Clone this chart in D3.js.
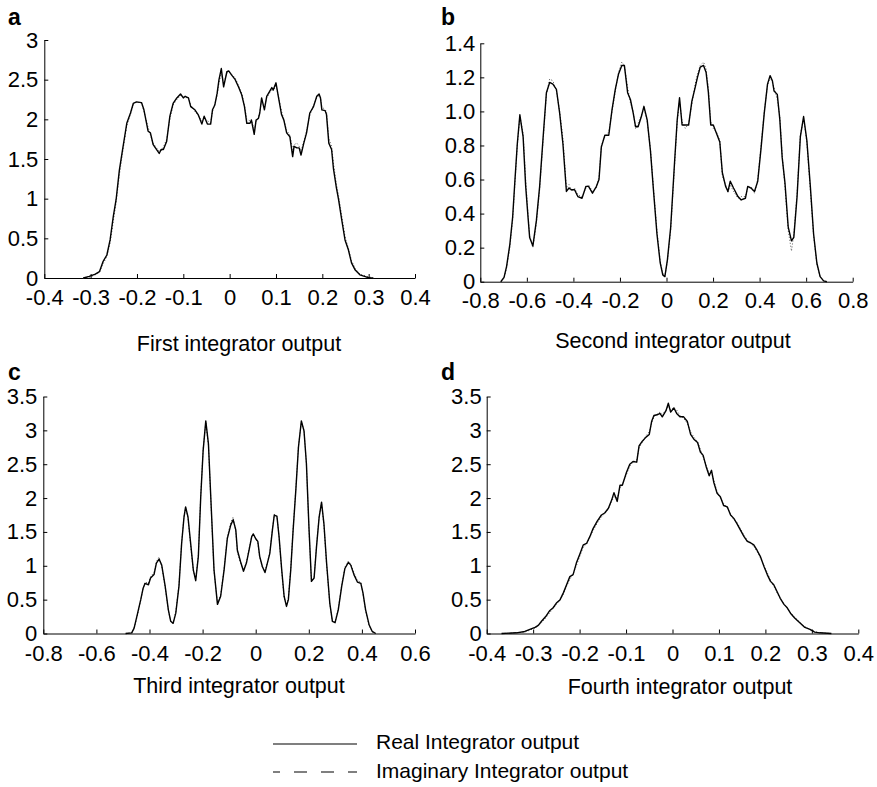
<!DOCTYPE html>
<html>
<head>
<meta charset="utf-8">
<script src="https://cdn.jsdelivr.net/npm/d3@7"></script>
<style>
  html, body { margin: 0; padding: 0; background: #fff; }
  svg { display: block; }
  text { font-family: "Liberation Sans", Arial, Helvetica, sans-serif; fill: #000; }
</style>
</head>
<body>
<svg id="chart" width="877" height="787"></svg>
<script>
// ---------------- DATA ----------------
// Panel a : First integrator output
const aX = [-0.316,-0.303,-0.29,-0.281,-0.273,-0.265,-0.258,-0.251,-0.245,-0.238,
  -0.231,-0.222,-0.214,-0.208,-0.201,-0.19,-0.185,-0.176,-0.171,-0.165,
  -0.158,-0.152,-0.148,-0.143,-0.136,-0.129,-0.122,-0.114,-0.106,-0.1,
  -0.096,-0.089,-0.084,-0.075,-0.068,-0.06,-0.055,-0.048,-0.041,-0.037,
  -0.032,-0.027,-0.023,-0.018,-0.013,-0.006,-0.002,0.004,0.012,0.019,
  0.026,0.032,0.037,0.044,0.047,0.053,0.057,0.062,0.065,0.069,
  0.075,0.08,0.086,0.091,0.094,0.1,0.105,0.112,0.117,0.123,
  0.13,0.136,0.139,0.145,0.15,0.154,0.16,0.166,0.173,0.181,
  0.188,0.193,0.196,0.199,0.206,0.209,0.214,0.22,0.224,0.23,
  0.235,0.242,0.249,0.256,0.263,0.271,0.281,0.296,0.303,0.31];
const aReal = [0,0.02,0.05,0.08,0.21,0.29,0.48,0.78,0.99,1.36,
  1.62,1.95,2.08,2.2,2.22,2.21,2.12,1.85,1.83,1.68,
  1.62,1.57,1.62,1.62,1.72,2.04,2.2,2.27,2.32,2.27,
  2.29,2.27,2.16,2.12,2.06,1.94,2.04,1.94,1.94,2.12,
  2.18,2.33,2.5,2.64,2.41,2.6,2.61,2.56,2.5,2.41,
  2.31,2.16,1.95,1.95,1.99,1.81,1.99,2.01,2.08,2.27,
  2.12,2.29,2.35,2.4,2.37,2.46,2.29,2.06,1.99,1.83,
  1.78,1.53,1.66,1.64,1.64,1.55,1.7,1.83,2.08,2.16,
  2.29,2.32,2.27,2.12,2.11,2.06,1.7,1.62,1.38,1.15,
  0.99,0.73,0.48,0.36,0.19,0.1,0.04,0.01,0,0];
const aImag = [0,0.01,0.04,0.07,0.18,0.27,0.44,0.72,0.95,1.3,
  1.58,1.92,2.06,2.18,2.22,2.2,2.1,1.9,1.8,1.7,
  1.64,1.6,1.6,1.65,1.75,2.0,2.18,2.25,2.3,2.28,
  2.27,2.28,2.18,2.1,2.05,1.98,2.02,1.98,1.96,2.1,
  2.2,2.3,2.46,2.58,2.45,2.58,2.6,2.57,2.52,2.43,
  2.33,2.18,2.0,1.98,2.0,1.86,1.97,2.02,2.1,2.22,
  2.15,2.27,2.33,2.38,2.36,2.42,2.3,2.1,2.0,1.86,
  1.8,1.62,1.68,1.7,1.66,1.6,1.72,1.86,2.05,2.18,
  2.27,2.3,2.28,2.16,2.12,2.1,1.76,1.66,1.45,1.2,
  1.04,0.78,0.52,0.38,0.22,0.12,0.05,0.02,0.01,0];
const aXTicks = [-0.4,-0.3,-0.2,-0.1,0,0.1,0.2,0.3,0.4];
const aXLabels = ["-0.4","-0.3","-0.2","-0.1","0","0.1","0.2","0.3","0.4"];
const aYTicks = [0,0.5,1,1.5,2,2.5,3];
const aYLabels = ["0","0.5","1","1.5","2","2.5","3"];

// Panel b : Second integrator output
const bX = [-0.712,-0.698,-0.687,-0.673,-0.661,-0.651,-0.641,-0.63,-0.616,-0.605,
  -0.595,-0.588,-0.574,-0.559,-0.545,-0.53,-0.516,-0.502,-0.488,-0.473,
  -0.459,-0.445,-0.43,-0.419,-0.408,-0.395,-0.381,-0.363,-0.346,-0.335,
  -0.318,-0.301,-0.29,-0.28,-0.265,-0.248,-0.234,-0.22,-0.206,-0.192,
  -0.181,-0.167,-0.155,-0.143,-0.133,-0.122,-0.108,-0.097,-0.083,-0.069,
  -0.055,-0.041,-0.027,-0.016,-0.007,0.004,0.018,0.035,0.046,0.056,
  0.067,0.081,0.095,0.109,0.123,0.133,0.145,0.159,0.17,0.18,
  0.19,0.201,0.215,0.229,0.24,0.254,0.264,0.274,0.288,0.307,
  0.321,0.339,0.349,0.363,0.378,0.392,0.406,0.42,0.434,0.445,
  0.455,0.462,0.476,0.487,0.497,0.509,0.523,0.537,0.547,0.561,
  0.575,0.589,0.603,0.618,0.632,0.646,0.66,0.675,0.689];
const bReal = [0,0.025,0.09,0.22,0.38,0.6,0.81,0.98,0.85,0.56,
  0.38,0.26,0.21,0.36,0.56,0.85,1.11,1.17,1.16,1.13,
  0.99,0.81,0.53,0.55,0.54,0.54,0.5,0.49,0.56,0.56,
  0.52,0.56,0.6,0.79,0.86,0.86,1.01,1.13,1.22,1.27,
  1.27,1.11,1.07,0.99,0.91,0.91,0.97,1.03,0.95,0.77,
  0.52,0.28,0.11,0.04,0.03,0.13,0.32,0.71,0.95,1.08,
  0.92,0.92,0.92,1.06,1.14,1.2,1.26,1.27,1.23,1.11,
  0.92,0.92,0.87,0.82,0.64,0.56,0.53,0.59,0.55,0.5,
  0.48,0.49,0.56,0.55,0.53,0.59,0.78,0.99,1.16,1.21,
  1.18,1.12,1.1,0.95,0.73,0.58,0.32,0.24,0.26,0.5,
  0.85,0.97,0.83,0.56,0.28,0.11,0.03,0.005,0];
const bImag = [0,0.02,0.08,0.2,0.36,0.58,0.8,0.97,0.87,0.6,
  0.4,0.27,0.2,0.34,0.54,0.83,1.1,1.19,1.18,1.12,
  1.0,0.84,0.55,0.57,0.53,0.55,0.51,0.5,0.55,0.57,
  0.53,0.55,0.62,0.8,0.85,0.88,1.0,1.12,1.23,1.29,
  1.27,1.14,1.05,1.0,0.9,0.93,0.98,1.02,0.94,0.78,
  0.53,0.3,0.12,0.05,0.03,0.12,0.3,0.69,0.94,1.06,
  0.94,0.9,0.93,1.04,1.16,1.22,1.27,1.29,1.25,1.14,
  0.94,0.9,0.88,0.83,0.62,0.57,0.52,0.57,0.53,0.49,
  0.5,0.5,0.55,0.56,0.52,0.6,0.8,1.0,1.15,1.2,
  1.17,1.14,1.07,0.97,0.74,0.56,0.3,0.18,0.28,0.52,
  0.86,0.96,0.82,0.54,0.27,0.1,0.03,0.005,0];
const bXTicks = [-0.8,-0.6,-0.4,-0.2,0,0.2,0.4,0.6,0.8];
const bXLabels = ["-0.8","-0.6","-0.4","-0.2","0","0.2","0.4","0.6","0.8"];
const bYTicks = [0,0.2,0.4,0.6,0.8,1.0,1.2,1.4];
const bYLabels = ["0","0.2","0.4","0.6","0.8","1.0","1.2","1.4"];

// Panel c : Third integrator output
const cX = [-0.49,-0.467,-0.458,-0.446,-0.433,-0.424,-0.417,-0.404,-0.396,-0.383,
  -0.374,-0.364,-0.354,-0.341,-0.329,-0.32,-0.311,-0.301,-0.289,-0.279,
  -0.27,-0.264,-0.255,-0.245,-0.235,-0.226,-0.216,-0.207,-0.198,-0.188,
  -0.178,-0.168,-0.157,-0.144,-0.132,-0.119,-0.107,-0.094,-0.085,-0.075,
  -0.069,-0.057,-0.046,-0.035,-0.025,-0.015,-0.009,0,0.008,0.015,
  0.025,0.035,0.044,0.053,0.063,0.07,0.08,0.088,0.098,0.107,
  0.116,0.123,0.132,0.141,0.151,0.161,0.172,0.182,0.191,0.201,
  0.21,0.22,0.229,0.239,0.248,0.257,0.267,0.279,0.289,0.299,
  0.311,0.324,0.336,0.349,0.358,0.37,0.383,0.396,0.404,0.414,
  0.427,0.439,0.452];
const cReal = [0,0.01,0.08,0.28,0.5,0.67,0.74,0.72,0.82,0.87,
  1.04,1.1,1.01,0.7,0.35,0.18,0.15,0.3,0.7,1.33,
  1.72,1.87,1.72,1.33,0.94,0.78,1.14,2.02,2.7,3.14,
  2.8,1.91,0.94,0.43,0.55,0.94,1.4,1.6,1.68,1.53,
  1.23,1.06,0.92,1.04,1.23,1.43,1.47,1.4,1.36,1.14,
  0.99,0.9,1.04,1.18,1.53,1.75,1.73,1.43,0.94,0.55,
  0.4,0.5,0.94,1.53,2.11,2.75,3.14,2.99,2.51,1.53,
  0.77,0.82,1.28,1.72,1.94,1.62,1.04,0.45,0.18,0.16,
  0.35,0.7,0.96,1.05,1.01,0.87,0.76,0.74,0.6,0.35,
  0.13,0.03,0];
const cImag = [0,0.01,0.07,0.26,0.49,0.66,0.76,0.74,0.84,0.9,
  1.06,1.13,1.0,0.68,0.34,0.17,0.16,0.32,0.72,1.35,
  1.74,1.86,1.7,1.3,0.93,0.8,1.16,2.05,2.72,3.12,
  2.78,1.88,0.92,0.45,0.57,0.96,1.43,1.64,1.72,1.5,
  1.2,1.04,0.94,1.05,1.25,1.44,1.46,1.41,1.34,1.12,
  0.98,0.92,1.05,1.2,1.55,1.76,1.74,1.42,0.92,0.53,
  0.41,0.52,0.96,1.55,2.13,2.77,3.12,3.0,2.5,1.5,
  0.76,0.84,1.3,1.74,1.92,1.6,1.02,0.44,0.17,0.17,
  0.37,0.72,0.98,1.07,1.03,0.9,0.78,0.76,0.58,0.33,
  0.12,0.02,0];
const cXTicks = [-0.8,-0.6,-0.4,-0.2,0,0.2,0.4,0.6];
const cXLabels = ["-0.8","-0.6","-0.4","-0.2","0","0.2","0.4","0.6"];
const cYTicks = [0,0.5,1,1.5,2,2.5,3,3.5];
const cYLabels = ["0","0.5","1","1.5","2","2.5","3","3.5"];

// Panel d : Fourth integrator output
const dX = [-0.368,-0.336,-0.318,-0.307,-0.296,-0.289,-0.282,-0.273,-0.264,-0.257,
  -0.25,-0.242,-0.235,-0.228,-0.221,-0.214,-0.207,-0.199,-0.192,-0.185,
  -0.178,-0.171,-0.162,-0.153,-0.146,-0.138,-0.131,-0.126,-0.119,-0.113,
  -0.108,-0.099,-0.092,-0.085,-0.077,-0.072,-0.065,-0.057,-0.05,-0.045,
  -0.04,-0.033,-0.027,-0.022,-0.014,-0.009,-0.004,0.003,0.009,0.016,
  0.024,0.032,0.039,0.046,0.054,0.06,0.066,0.073,0.079,0.084,
  0.089,0.096,0.103,0.11,0.118,0.125,0.132,0.139,0.146,0.154,
  0.161,0.168,0.175,0.182,0.189,0.197,0.204,0.211,0.218,0.225,
  0.232,0.24,0.247,0.254,0.263,0.274,0.285,0.296,0.306,0.317,
  0.342];
const dReal = [0,0.01,0.03,0.06,0.09,0.12,0.18,0.25,0.34,0.38,
  0.45,0.5,0.6,0.72,0.84,0.87,1.04,1.18,1.31,1.33,
  1.43,1.55,1.66,1.75,1.78,1.85,1.97,2.08,1.95,2.19,
  2.19,2.38,2.5,2.54,2.53,2.77,2.84,2.9,2.94,3.13,
  3.22,3.23,3.25,3.2,3.29,3.4,3.27,3.33,3.25,3.2,
  3.2,3.13,2.94,2.87,2.82,2.68,2.63,2.45,2.33,2.41,
  2.23,2.07,2.02,1.89,1.87,1.75,1.7,1.62,1.53,1.43,
  1.36,1.34,1.31,1.23,1.14,0.99,0.87,0.77,0.72,0.62,
  0.52,0.43,0.38,0.3,0.23,0.16,0.09,0.06,0.02,0.01,
  0];
const dImag = [0,0.01,0.02,0.05,0.08,0.11,0.16,0.23,0.31,0.37,
  0.43,0.49,0.58,0.7,0.8,0.88,1.0,1.15,1.28,1.32,
  1.42,1.52,1.63,1.72,1.77,1.84,1.95,2.02,2.0,2.15,
  2.2,2.35,2.47,2.53,2.56,2.74,2.82,2.92,2.98,3.1,
  3.2,3.24,3.27,3.24,3.3,3.36,3.3,3.34,3.3,3.22,
  3.18,3.1,2.98,2.9,2.83,2.72,2.6,2.48,2.36,2.38,
  2.26,2.1,2.0,1.92,1.85,1.77,1.68,1.64,1.55,1.45,
  1.38,1.33,1.29,1.21,1.12,1.0,0.9,0.78,0.7,0.6,
  0.51,0.44,0.37,0.31,0.24,0.17,0.1,0.06,0.03,0.01,
  0];
const dXTicks = [-0.4,-0.3,-0.2,-0.1,0,0.1,0.2,0.3,0.4];
const dXLabels = ["-0.4","-0.3","-0.2","-0.1","0","0.1","0.2","0.3","0.4"];
const dYTicks = [0,0.5,1,1.5,2,2.5,3,3.5];
const dYLabels = ["0","0.5","1","1.5","2","2.5","3","3.5"];

const panelLetters = ["a","b","c","d"];
const panelTitles = ["First integrator output","Second integrator output","Third integrator output","Fourth integrator output"];
const legendLabels = ["Real Integrator output","Imaginary Integrator output"];

// ---------------- LAYOUT ----------------
const panels = [
  { x: aX, re: aReal, im: aImag, xt: aXTicks, xl: aXLabels, yt: aYTicks, yl: aYLabels,
    left: 44.3, right: 415, top: 40, bottom: 278, xPad: 11, yPad: 6,
    letter: [8, 25], title: [239, 350.5] },
  { x: bX, re: bReal, im: bImag, xt: bXTicks, xl: bXLabels, yt: bYTicks, yl: bYLabels,
    left: 480.3, right: 852.7, top: 43.3, bottom: 281.7, xPad: 11, yPad: 5,
    letter: [441, 25], title: [673, 347.5] },
  { x: cX, re: cReal, im: cImag, xt: cXTicks, xl: cXLabels, yt: cYTicks, yl: cYLabels,
    left: 43.3, right: 415, top: 396.5, bottom: 633.5, xPad: 12, yPad: 6,
    letter: [8, 380], title: [239, 693] },
  { x: dX, re: dReal, im: dImag, xt: dXTicks, xl: dXLabels, yt: dYTicks, yl: dYLabels,
    left: 486.7, right: 858.3, top: 396.5, bottom: 633.5, xPad: 12, yPad: 5,
    letter: [441, 380], title: [680, 694] }
];

const svg = d3.select("#chart");
const FONT = '"Liberation Sans", Arial, Helvetica, sans-serif';

panels.forEach((p, i) => {
  const xs = d3.scaleLinear().domain([p.xt[0], p.xt[p.xt.length - 1]]).range([p.left, p.right]);
  const ys = d3.scaleLinear().domain([p.yt[0], p.yt[p.yt.length - 1]]).range([p.bottom, p.top]);

  const g = svg.append("g");

  const xAxis = d3.axisBottom(xs).tickValues(p.xt)
    .tickFormat((d, k) => p.xl[k]).tickSizeInner(-4).tickSizeOuter(0).tickPadding(p.xPad);
  const yAxis = d3.axisLeft(ys).tickValues(p.yt)
    .tickFormat((d, k) => p.yl[k]).tickSizeInner(-4).tickSizeOuter(0).tickPadding(p.yPad);

  const gx = g.append("g").attr("transform", `translate(0,${p.bottom})`).call(xAxis);
  const gy = g.append("g").attr("transform", `translate(${p.left},0)`).call(yAxis);
  [gx, gy].forEach(ax => {
    ax.attr("font-family", FONT).attr("font-size", 22);
    ax.selectAll("path.domain").attr("stroke", "#000").attr("stroke-width", 1);
    ax.selectAll(".tick line").attr("stroke", "#000").attr("stroke-width", 1);
    ax.selectAll(".tick text").attr("fill", "#000");
  });

  const line = d3.line().x(d => xs(d[0])).y(d => ys(d[1]));
  const reData = d3.zip(p.x, p.re);
  const imData = d3.zip(p.x, p.im);

  g.append("path").datum(imData)
    .attr("d", line).attr("fill", "none")
    .attr("stroke", "#555").attr("stroke-width", 1)
    .attr("stroke-dasharray", "1,2");

  g.append("path").datum(reData)
    .attr("d", line).attr("fill", "none")
    .attr("stroke", "#000").attr("stroke-width", 1.4)
    .attr("stroke-linejoin", "round");

  svg.append("text").attr("x", p.letter[0]).attr("y", p.letter[1])
    .attr("font-size", 23).attr("font-weight", "bold").text(panelLetters[i]);

  svg.append("text").attr("x", p.title[0]).attr("y", p.title[1])
    .attr("text-anchor", "middle").attr("font-size", 21.5).text(panelTitles[i]);
});

// ---------------- LEGEND ----------------
const lg = svg.append("g");
lg.append("line").attr("x1", 273).attr("x2", 357).attr("y1", 744).attr("y2", 744)
  .attr("stroke", "#000").attr("stroke-width", 1.2);
lg.append("text").attr("x", 376).attr("y", 749).attr("font-size", 21).text(legendLabels[0]);
lg.append("line").attr("x1", 273).attr("x2", 357).attr("y1", 772).attr("y2", 772)
  .attr("stroke", "#000").attr("stroke-width", 1.2)
  .attr("stroke-dasharray", "13,14").attr("stroke-dashoffset", 6);
lg.append("text").attr("x", 376).attr("y", 778).attr("font-size", 21).text(legendLabels[1]);
</script>
</body>
</html>
